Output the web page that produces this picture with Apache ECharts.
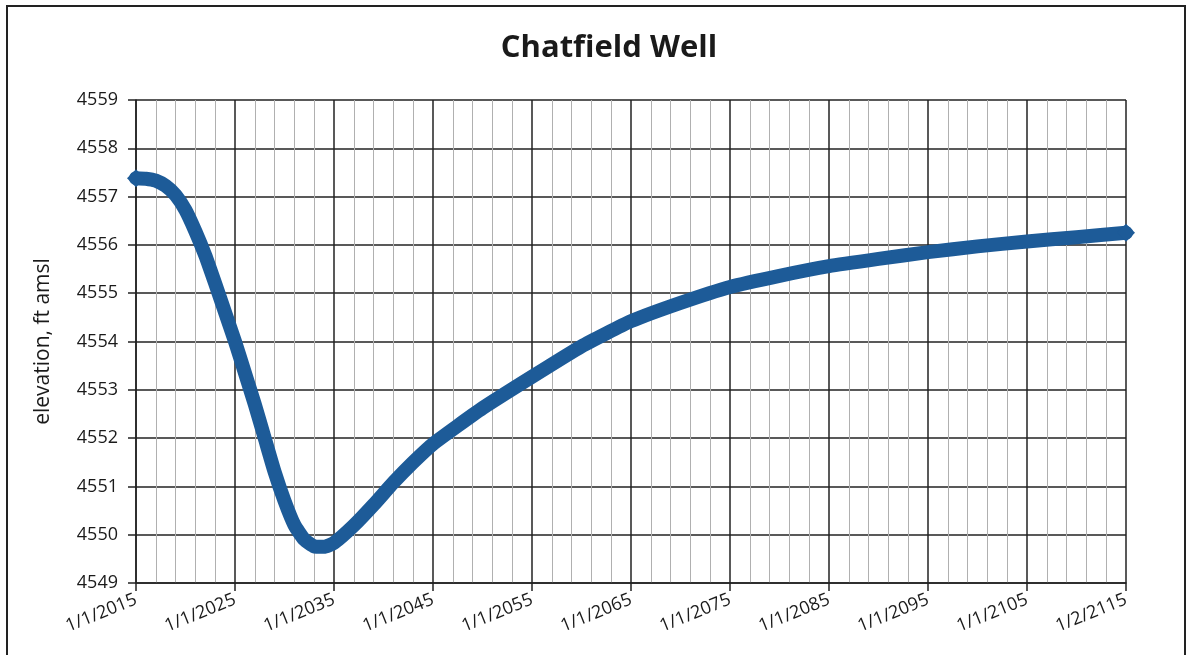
<!DOCTYPE html>
<html>
<head>
<meta charset="utf-8">
<script src="https://cdn.jsdelivr.net/npm/echarts@6/dist/echarts.min.js"></script>
<style>
html,body{margin:0;padding:0;background:#fff;}
#chart{width:1192px;height:655px;}
</style>
</head>
<body>
<div id="chart"></div>
<script>
var years = [2015,2016,2017,2018,2019,2020,2021,2022,2023,2024,2025,2026,2027,2028,2029,2030,2031,2032,2033,2034,2035,2037,2039,2041,2043,2045,2050,2055,2060,2065,2070,2075,2080,2085,2090,2095,2100,2105,2110,2115];
var elevation = [4557.38,4557.37,4557.33,4557.22,4557.03,4556.72,4556.28,4555.78,4555.2,4554.6,4554.0,4553.35,4552.7,4552.0,4551.3,4550.7,4550.2,4549.9,4549.76,4549.75,4549.83,4550.19,4550.62,4551.08,4551.5,4551.88,4552.62,4553.27,4553.9,4554.42,4554.8,4555.13,4555.36,4555.56,4555.71,4555.85,4555.97,4556.07,4556.16,4556.25];
var xTickYears = [2015,2025,2035,2045,2055,2065,2075,2085,2095,2105,2115];
var xTickLabels = ['1/1/2015','1/1/2025','1/1/2035','1/1/2045','1/1/2055','1/1/2065','1/1/2075','1/1/2085','1/1/2095','1/1/2105','1/2/2115'];

var FONT = '"Open Sans", sans-serif';
var seriesData = years.map(function(y, i){
  var item = {value:[y, elevation[i]]};
  if (i === 0 || i === years.length - 1) {
    item.symbol = 'diamond';
    item.symbolSize = 18;
  } else {
    item.symbol = 'none';
  }
  return item;
});

var chart = echarts.init(document.getElementById('chart'), null, {renderer:'canvas'});
chart.setOption({
  animation:false,
  backgroundColor:'#ffffff',
  title:{
    text:'Chatfield Well',
    left:604, top:28, textAlign:'center',
    textStyle:{fontFamily:FONT, fontSize:31, fontWeight:'bold', color:'#1a1a1a'}
  },
  graphic:[{
    type:'rect', shape:{x:7, y:6, width:1178, height:700},
    style:{fill:'none', stroke:'#222', lineWidth:2}, silent:true, z:-1
  }],
  grid:{left:136, right:66, top:100, bottom:72},
  xAxis:{
    type:'value', min:2015, max:2115, interval:10,
    axisLine:{show:true, lineStyle:{color:'#222', width:1.5}},
    axisTick:{show:true, length:8, lineStyle:{color:'#222', width:1.5}},
    minorTick:{show:false, splitNumber:5},
    splitLine:{show:true, lineStyle:{color:'#222', width:1.5}},
    minorSplitLine:{show:true, lineStyle:{color:'#b0b0b0', width:1}},
    axisLabel:{
      rotate:22, fontFamily:FONT, fontSize:18, color:'#1a1a1a', margin:16,
      formatter:function(v){ var k = xTickYears.indexOf(Math.round(v)); return k >= 0 ? xTickLabels[k] : ''; }
    }
  },
  yAxis:{
    type:'value', min:4549, max:4559, interval:1,
    name:'elevation, ft amsl', nameLocation:'middle', nameGap:82, nameRotate:90,
    nameTextStyle:{fontFamily:FONT, fontSize:21, color:'#1a1a1a'},
    axisLine:{show:true, lineStyle:{color:'#222', width:1.5}},
    axisTick:{show:true, length:8, lineStyle:{color:'#222', width:1.5}},
    splitLine:{show:true, lineStyle:{color:'#222', width:1.5}},
    axisLabel:{fontFamily:FONT, fontSize:18, color:'#1a1a1a', margin:18,
      formatter:function(v){ return String(v); }}
  },
  series:[{
    type:'line',
    data:seriesData,
    smooth:0.15,
    showAllSymbol:true,
    lineStyle:{color:'#1d5b98', width:14, cap:'round', join:'round'},
    itemStyle:{color:'#1d5b98'},
    z:5
  }]
});
</script>
</body>
</html>
